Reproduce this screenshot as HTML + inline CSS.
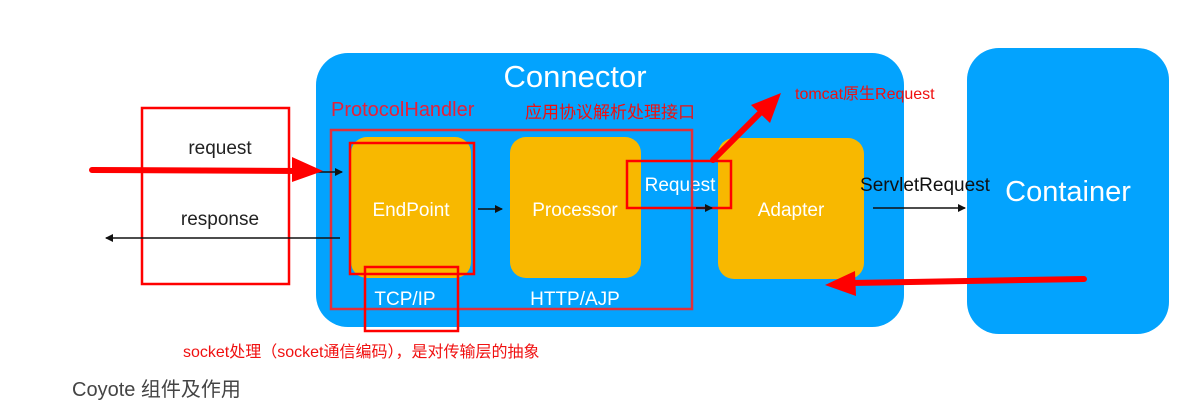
<!DOCTYPE html>
<html><head><meta charset="utf-8"><style>
html,body{margin:0;padding:0;background:#fff;}
svg{display:block;}
</style></head><body>
<svg width="1194" height="406" viewBox="0 0 1194 406" xmlns="http://www.w3.org/2000/svg" font-family="Liberation Sans, Noto Sans CJK SC, sans-serif">
<defs>
<marker id="bk" markerWidth="8" markerHeight="8" refX="7" refY="4" orient="auto" markerUnits="userSpaceOnUse"><path d="M0,0 L8,4 L0,8 Z" fill="#111"/></marker>
</defs>
<rect x="316" y="53" width="588" height="274" rx="32" fill="#03a3fe"/>
<rect x="967" y="48" width="202" height="286" rx="32" fill="#03a3fe"/>
<rect x="351" y="137" width="120" height="141" rx="16" fill="#f8b800"/>
<rect x="510" y="137" width="131" height="141" rx="16" fill="#f8b800"/>
<rect x="718" y="138" width="146" height="141" rx="16" fill="#f8b800"/>
<text x="575" y="87" font-size="31" fill="#fff" text-anchor="middle">Connector</text>
<text x="1068" y="201" font-size="29" fill="#fff" text-anchor="middle">Container</text>
<text x="411" y="216" font-size="19" fill="#fff" text-anchor="middle">EndPoint</text>
<text x="575" y="216" font-size="19" fill="#fff" text-anchor="middle">Processor</text>
<text x="680" y="191" font-size="19" fill="#fff" text-anchor="middle">Request</text>
<text x="791" y="216" font-size="19" fill="#fff" text-anchor="middle">Adapter</text>
<text x="405" y="305" font-size="19" fill="#fff" text-anchor="middle">TCP/IP</text>
<text x="575" y="305" font-size="19" fill="#fff" text-anchor="middle">HTTP/AJP</text>
<text x="220" y="154" font-size="19" fill="#222" text-anchor="middle">request</text>
<text x="220" y="225" font-size="19" fill="#222" text-anchor="middle">response</text>
<text x="925" y="191" font-size="19" fill="#111" text-anchor="middle">ServletRequest</text>
<text x="331" y="116" font-size="20" fill="#e5203a">ProtocolHandler</text>
<text x="525" y="118" font-size="17" fill="#f01010">应用协议解析处理接口</text>
<text x="795" y="99" font-size="16" fill="#f01010">tomcat原生Request</text>
<text x="183" y="357" font-size="16" fill="#f01010">socket处理（socket通信编码），是对传输层的抽象</text>
<text x="72" y="396" font-size="20" fill="#444">Coyote 组件及作用</text>
<!-- red boxes -->
<g fill="none" stroke="#f00" stroke-width="2.5">
<rect x="142" y="108" width="147" height="176"/>
<rect x="331" y="130" width="361" height="179" stroke="#e0303a"/>
<rect x="350" y="143" width="124" height="131"/>
<rect x="365" y="267" width="93" height="64"/>
<rect x="627" y="161" width="104" height="47"/>
</g>
<!-- black arrows -->
<g stroke="#111" stroke-width="1.5" fill="none">
<line x1="318" y1="172" x2="342" y2="172" marker-end="url(#bk)"/>
<line x1="340" y1="238" x2="106" y2="238" marker-end="url(#bk)"/>
<line x1="478" y1="209" x2="502" y2="209" marker-end="url(#bk)"/>
<line x1="696" y1="208" x2="712" y2="208" marker-end="url(#bk)"/>
<line x1="873" y1="208" x2="965" y2="208" marker-end="url(#bk)"/>
</g>
<!-- red big arrows -->
<g fill="#f00" stroke="#f00" stroke-linecap="round">
<line x1="92" y1="170" x2="300" y2="171" stroke-width="6"/>
<path d="M292,157 L323,171 L292,182 Z" stroke="none"/>
<line x1="1084" y1="279" x2="850" y2="283" stroke-width="6"/>
<path d="M855,271 L825,285 L856,296 Z" stroke="none"/>
<line x1="713" y1="160" x2="765" y2="108" stroke-width="6"/>
<path d="M781,93 L751,105 L770,123 Z" stroke="none"/>
</g>
</svg>
</body></html>
